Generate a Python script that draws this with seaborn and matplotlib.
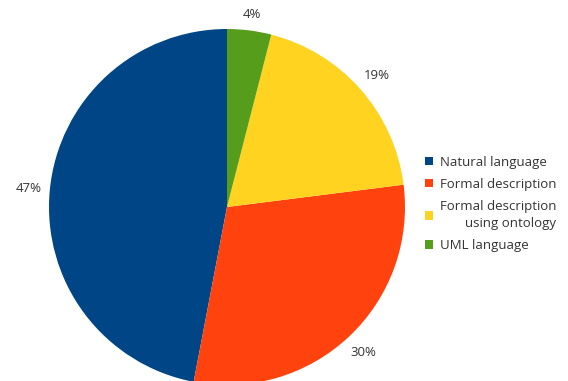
import matplotlib
matplotlib.use("Agg")
import matplotlib.pyplot as plt
import seaborn as sns

categories = ["Natural language", "Formal description",
              "Formal description\nusing ontology", "UML language"]
shares = [47, 30, 19, 4]
colors = ["#004586", "#ff420e", "#ffd320", "#579d1c"]

sns.set_theme(style="white")
plt.rcParams["font.family"] = ["Open Sans", "DejaVu Sans"]
palette = sns.color_palette(colors)

fig = plt.figure(figsize=(5.68, 3.81), dpi=100)
ax = fig.add_axes([49 / 568, -4 / 381, 356 / 568, 356 / 381])

wedges, _, pct = ax.pie(
    shares, colors=palette, startangle=90, counterclock=True,
    autopct="%d%%", pctdistance=1.12, radius=1.0,
    wedgeprops=dict(linewidth=0),
    textprops=dict(color="#333333", fontsize=9.5),
)
pct[3].set_position((pct[3].get_position()[0], pct[3].get_position()[1] - 0.03))
ax.set_xlim(-1, 1)
ax.set_ylim(-1, 1)
ax.set_aspect("equal")
ax.axis("off")
for t in ax.texts:
    t.set_clip_on(False)

leg = fig.legend(
    wedges, categories, loc="center left",
    bbox_to_anchor=(0.727, 0.465), frameon=False,
    fontsize=9.5, handlelength=0.65, handleheight=0.65,
    handletextpad=0.5, labelspacing=0.68,
)
for txt in leg.get_texts():
    txt.set_color("#333333")
    txt.set_multialignment("right")
    txt.set_linespacing(1.45)

fig.savefig("out.png", dpi=100)
